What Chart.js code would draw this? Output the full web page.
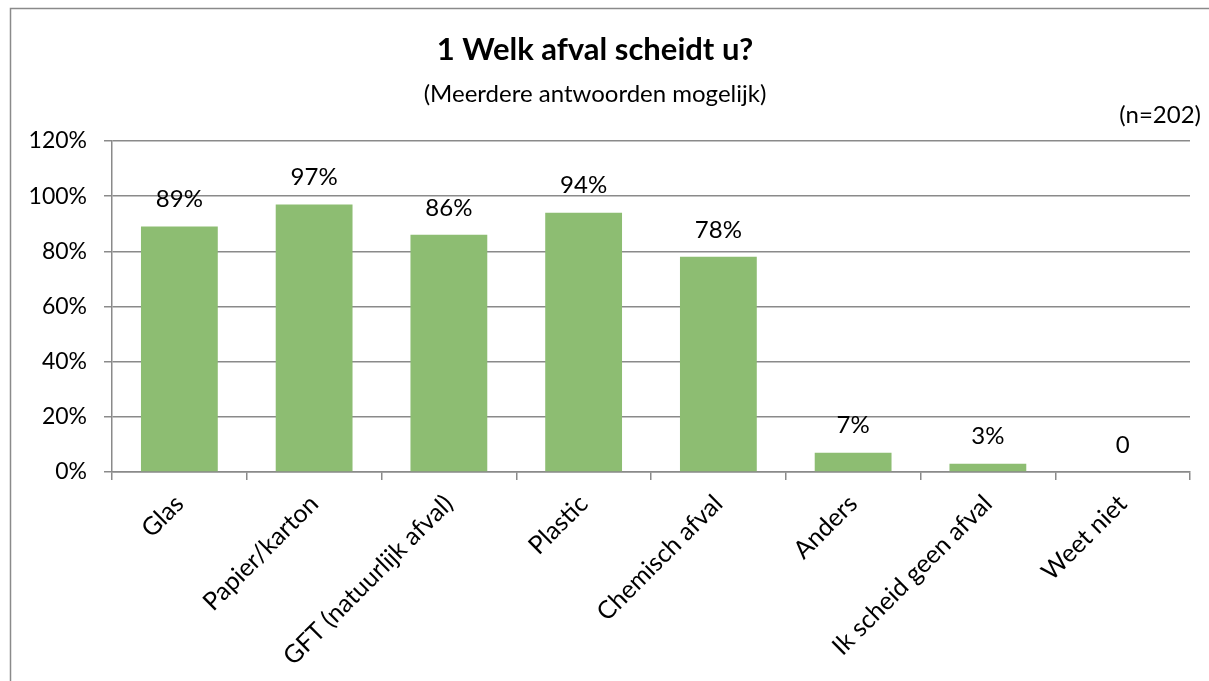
<!DOCTYPE html>
<html>
<head>
<meta charset="utf-8">
<script src="https://cdn.jsdelivr.net/npm/chart.js@4"></script>
<style>
  html, body { margin: 0; padding: 0; background: #ffffff; }
  #wrap { position: relative; width: 1209px; height: 681px; }
</style>
</head>
<body>
<div id="wrap"><canvas id="afval-chart" width="1209" height="681"></canvas></div>
<script>
var categories = [
  "Glas",
  "Papier/karton",
  "GFT (natuurlijk afval)",
  "Plastic",
  "Chemisch afval",
  "Anders",
  "Ik scheid geen afval",
  "Weet niet",
];
var percentages = [89, 97, 86, 94, 78, 7, 3, 0];
var yTicks = [0, 20, 40, 60, 80, 100, 120];

var fontFamily = "Lato, 'Open Sans', sans-serif";
var gridGray = "#8a8a8a";
var barGreen = "#8dbd72";
var textSize = 23;

// frame around chart + sample size note
var framePlugin = {
  id: "frame",
  beforeDraw: function (chart) {
    var ctx = chart.ctx;
    ctx.save();
    ctx.strokeStyle = gridGray;
    ctx.lineWidth = 1.5;
    ctx.strokeRect(10.5, 8.5, 1400, 900);
    ctx.restore();
  },
  afterDraw: function (chart) {
    var ctx = chart.ctx;
    ctx.save();
    ctx.fillStyle = "#000";
    ctx.font = "24px " + fontFamily;
    ctx.textAlign = "right";
    ctx.textBaseline = "middle";
    ctx.fillText("(n=202)", 1201, 115);
    ctx.restore();
  },
};

// value labels above each bar
var valueLabels = {
  id: "valueLabels",
  afterDatasetsDraw: function (chart) {
    var ctx = chart.ctx;
    var meta = chart.getDatasetMeta(0);
    ctx.save();
    ctx.fillStyle = "#000";
    ctx.font = "24px " + fontFamily;
    ctx.textAlign = "center";
    ctx.textBaseline = "middle";
    meta.data.forEach(function (bar, i) {
      var v = percentages[i];
      var text = v === 0 ? "0" : v + "%";
      ctx.fillText(text, bar.x, bar.y - 27);
    });
    ctx.restore();
  },
};

var ctx = document.getElementById("afval-chart");
new Chart(ctx, {
  type: "bar",
  data: {
    labels: categories,
    datasets: [
      {
        label: "Afval",
        data: percentages,
        backgroundColor: barGreen,
        barPercentage: 0.57,
        categoryPercentage: 1,
      },
    ],
  },
  plugins: [framePlugin, valueLabels],
  options: {
    responsive: false,
    animation: false,
    layout: {
      padding: { left: 0, right: 19, top: 0, bottom: 0 },
    },
    plugins: {
      legend: { display: false },
      tooltip: { enabled: false },
      title: {
        display: true,
        text: "1 Welk afval scheidt u?",
        color: "#000",
        font: { family: fontFamily, size: 31, weight: "bold", lineHeight: 1.2 },
        padding: { top: 31, bottom: 8 },
      },
      subtitle: {
        display: true,
        text: "(Meerdere antwoorden mogelijk)",
        color: "#000",
        font: { family: fontFamily, size: 24, lineHeight: 1.2 },
        padding: { top: 4, bottom: 32 },
      },
    },
    scales: {
      x: {
        afterFit: function (scale) {
          scale.height = 209;
        },
        grid: {
          display: true,
          drawOnChartArea: false,
          drawTicks: true,
          tickLength: 8,
          color: gridGray,
          lineWidth: 1.5,
        },
        border: { color: gridGray, width: 1.5 },
        ticks: {
          color: "#000",
          font: { family: fontFamily, size: 25 },
          minRotation: 45,
          maxRotation: 45,
          padding: 9,
          autoSkip: false,
        },
      },
      y: {
        min: 0,
        max: 120,
        afterFit: function (scale) {
          scale.width = 112;
        },
        afterBuildTicks: function (scale) {
          scale.ticks = yTicks.map(function (v) {
            return { value: v };
          });
        },
        grid: {
          color: gridGray,
          lineWidth: 1.5,
          drawTicks: true,
          tickLength: 8,
        },
        border: { color: gridGray, width: 1.5 },
        ticks: {
          color: "#000",
          font: { family: fontFamily, size: textSize },
          padding: 17,
          callback: function (v) {
            return v + "%";
          },
        },
      },
    },
  },
});
</script>
</body>
</html>
